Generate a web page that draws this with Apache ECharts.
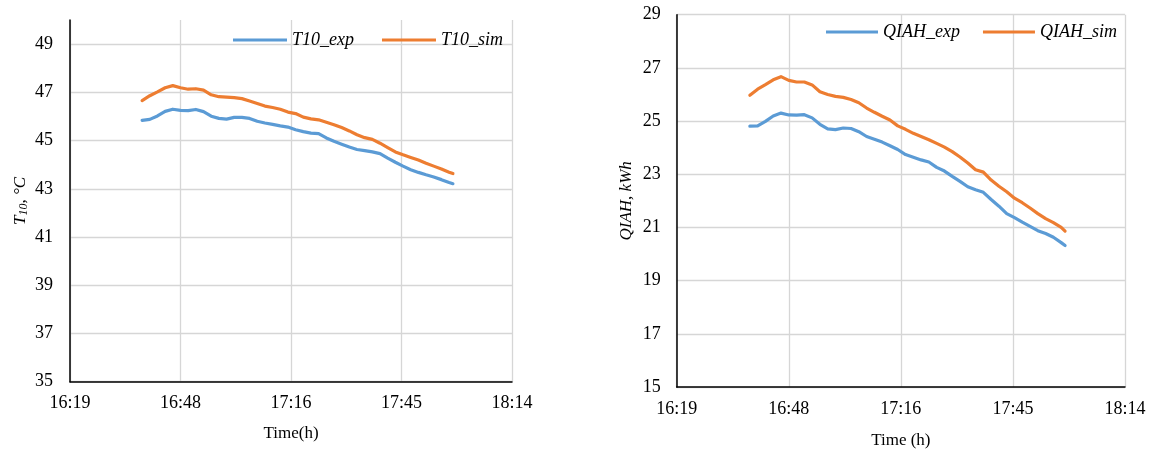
<!DOCTYPE html>
<html>
<head>
<meta charset="utf-8">
<script src="https://cdn.jsdelivr.net/npm/echarts@6/dist/echarts.min.js"></script>
<style>
  html, body { margin: 0; padding: 0; background: #fff; }
  #chart { width: 1153px; height: 454px; }
</style>
</head>
<body>
<div id="chart"></div>
<script>
// Sample times (clock time, h:mm)
const times = [
  '16:38','16:40','16:42','16:44','16:46','16:48','16:50','16:52','16:54','16:56',
  '16:58','17:00','17:02','17:04','17:06','17:08','17:10','17:12','17:14','17:16',
  '17:18','17:20','17:22','17:24','17:26','17:28','17:30','17:32','17:34','17:36',
  '17:38','17:40','17:42','17:44','17:46','17:48','17:50','17:52','17:54','17:56',
  '17:58','17:59'
];

// Tank temperature T10 (°C)
const t10Exp = [
  45.84,45.88,46.02,46.21,46.30,46.25,46.24,46.29,46.20,46.01,
  45.92,45.89,45.96,45.96,45.92,45.80,45.73,45.67,45.61,45.56,
  45.45,45.37,45.31,45.29,45.11,44.97,44.85,44.73,44.63,44.58,
  44.53,44.46,44.27,44.10,43.94,43.79,43.68,43.58,43.49,43.38,
  43.26,43.21
];
const t10Sim = [
  46.66,46.86,47.02,47.19,47.28,47.19,47.13,47.15,47.09,46.90,
  46.82,46.80,46.78,46.74,46.64,46.54,46.43,46.37,46.30,46.18,
  46.12,45.97,45.90,45.86,45.76,45.66,45.54,45.40,45.24,45.12,
  45.05,44.89,44.71,44.53,44.41,44.30,44.19,44.06,43.94,43.82,
  43.69,43.63
];

// Stored energy QIAH (kWh)
const qiahExp = [
  24.81,24.82,24.99,25.19,25.30,25.23,25.22,25.24,25.12,24.88,
  24.71,24.68,24.74,24.72,24.60,24.42,24.32,24.21,24.07,23.93,
  23.74,23.64,23.54,23.46,23.26,23.12,22.92,22.73,22.53,22.42,
  22.32,22.05,21.80,21.52,21.37,21.20,21.04,20.88,20.77,20.63,
  20.43,20.32
];
const qiahSim = [
  25.97,26.20,26.37,26.55,26.67,26.53,26.47,26.47,26.36,26.10,
  26.00,25.93,25.89,25.81,25.69,25.49,25.33,25.18,25.04,24.82,
  24.69,24.54,24.42,24.30,24.16,24.02,23.85,23.65,23.42,23.17,
  23.08,22.78,22.55,22.34,22.10,21.93,21.73,21.52,21.33,21.18,
  21.00,20.86
];

// Time axis is in hundredths of a day: 68 -> 16:19, 76 -> 18:14
const timeAxisMin = 68, timeAxisMax = 76, timeAxisStep = 2;

function toDayHundredths(hhmm) {
  const [h, m] = hhmm.split(':').map(Number);
  return (h * 60 + m) / 14.4;
}
function fmtClock(v) {
  const total = Math.floor(v * 14.4 + 1e-6);
  const h = Math.floor(total / 60), m = total % 60;
  return h + ':' + (m < 10 ? '0' + m : m);
}
function pairs(vals) {
  return times.map((t, i) => [toDayHundredths(t), vals[i]]);
}

const FONT = '"Liberation Serif", "Times New Roman", serif';
const BLUE = '#5B9BD5', ORANGE = '#ED7D31';
const GRID_COLOR = '#d6d6d6';

function xAxis(gridIndex, name, gap) {
  return {
    type: 'value', gridIndex,
    min: timeAxisMin, max: timeAxisMax, interval: timeAxisStep,
    name, nameLocation: 'middle', nameGap: gap,
    nameTextStyle: { fontFamily: FONT, fontSize: 17, color: '#000' },
    axisLine: { show: true, lineStyle: { color: '#000', width: 1.5 } },
    axisTick: { show: false },
    axisLabel: { formatter: fmtClock, fontFamily: FONT, fontSize: 18, color: '#000', margin: 13 },
    splitLine: { show: true, lineStyle: { color: GRID_COLOR, width: 1.3 } }
  };
}

const chart = echarts.init(document.getElementById('chart'), null, { renderer: 'canvas' });

chart.setOption({
  animation: false,
  backgroundColor: '#fff',
  grid: [
    { left: 70, top: 20, width: 442, height: 361.7 },
    { left: 676.7, top: 14.7, width: 448.3, height: 375.3 }
  ],
  legend: [
    {
      data: ['T10_exp', 'T10_sim'], left: 233, top: 31, padding: 0,
      icon: 'rect', itemWidth: 54, itemHeight: 3, itemGap: 28,
      textStyle: { fontFamily: FONT, fontSize: 18, fontStyle: 'italic', color: '#000' }
    },
    {
      data: ['QIAH_exp', 'QIAH_sim'], left: 826, top: 23, padding: 0,
      icon: 'rect', itemWidth: 52, itemHeight: 3, itemGap: 23,
      textStyle: { fontFamily: FONT, fontSize: 18, fontStyle: 'italic', color: '#000' }
    }
  ],
  xAxis: [
    xAxis(0, 'Time(h)', 43),
    xAxis(1, 'Time (h)', 45)
  ],
  yAxis: [
    {
      type: 'value', gridIndex: 0, min: 35, max: 50, interval: 2,
      name: '{v|T}{s|10}{v|, °C}', nameLocation: 'middle', nameGap: 40,
      nameTextStyle: {
        fontFamily: FONT, color: '#000',
        rich: {
          v: { fontFamily: FONT, fontSize: 17, fontStyle: 'italic', color: '#000' },
          s: { fontFamily: FONT, fontSize: 12, fontStyle: 'italic', color: '#000', verticalAlign: 'bottom', padding: [6, 0, 0, 0] }
        }
      },
      axisLine: { show: true, lineStyle: { color: '#000', width: 1.5 } },
      axisTick: { show: false },
      axisLabel: { fontFamily: FONT, fontSize: 18, color: '#000', margin: 17, showMaxLabel: false },
      splitLine: {
        show: true,
        lineStyle: {
          color: [GRID_COLOR, GRID_COLOR, GRID_COLOR, GRID_COLOR, GRID_COLOR, GRID_COLOR, GRID_COLOR, GRID_COLOR, 'rgba(0,0,0,0)'],
          width: 1.3
        }
      }
    },
    {
      type: 'value', gridIndex: 1, min: 15, max: 29, interval: 2,
      name: 'QIAH, kWh', nameLocation: 'middle', nameGap: 42,
      nameTextStyle: { fontFamily: FONT, fontSize: 17, fontStyle: 'italic', color: '#000' },
      axisLine: { show: true, lineStyle: { color: '#000', width: 1.5 } },
      axisTick: { show: false },
      axisLabel: { fontFamily: FONT, fontSize: 18, color: '#000', margin: 16 },
      splitLine: { show: true, lineStyle: { color: GRID_COLOR, width: 1.3 } }
    }
  ],
  series: [
    { name: 'T10_exp', type: 'line', xAxisIndex: 0, yAxisIndex: 0, data: pairs(t10Exp),
      showSymbol: false, symbol: 'none', color: BLUE, lineStyle: { width: 3.2, color: BLUE, cap: 'round', join: 'round' } },
    { name: 'T10_sim', type: 'line', xAxisIndex: 0, yAxisIndex: 0, data: pairs(t10Sim),
      showSymbol: false, symbol: 'none', color: ORANGE, lineStyle: { width: 3.2, color: ORANGE, cap: 'round', join: 'round' } },
    { name: 'QIAH_exp', type: 'line', xAxisIndex: 1, yAxisIndex: 1, data: pairs(qiahExp),
      showSymbol: false, symbol: 'none', color: BLUE, lineStyle: { width: 3.2, color: BLUE, cap: 'round', join: 'round' } },
    { name: 'QIAH_sim', type: 'line', xAxisIndex: 1, yAxisIndex: 1, data: pairs(qiahSim),
      showSymbol: false, symbol: 'none', color: ORANGE, lineStyle: { width: 3.2, color: ORANGE, cap: 'round', join: 'round' } }
  ]
});
</script>
</body>
</html>
